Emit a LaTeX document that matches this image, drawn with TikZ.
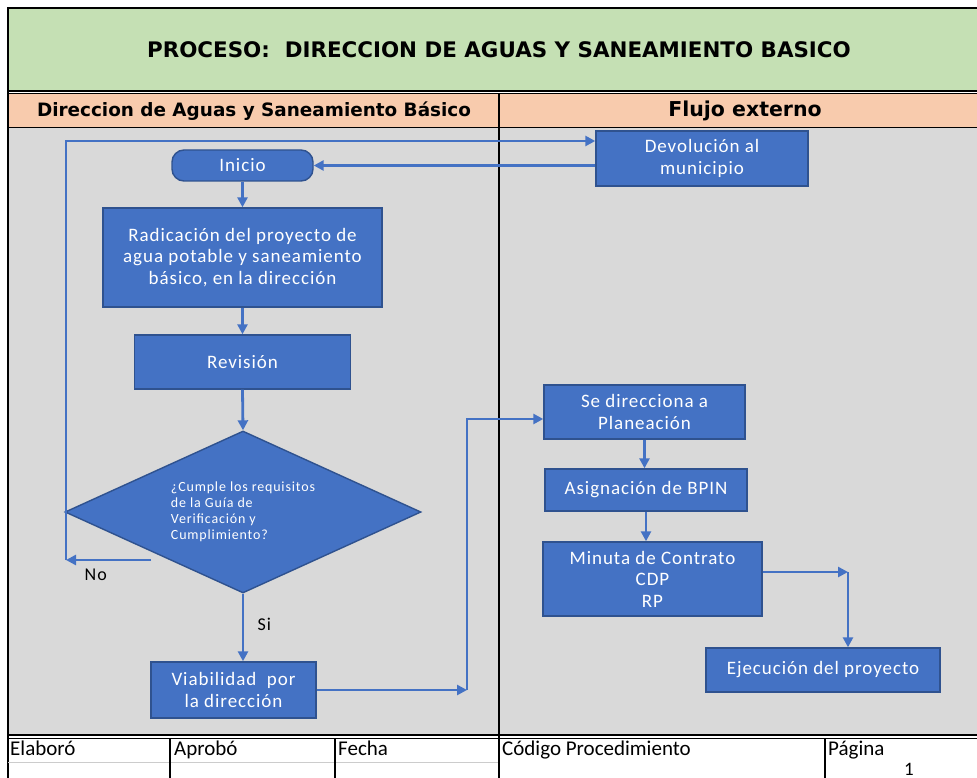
\documentclass[tikz,border=0pt]{standalone}
\usepackage{fontspec}
\setmainfont{Carlito}
\newfontfamily\boxfont[LetterSpace=5]{Carlito}
\newfontfamily\smallboxfont[LetterSpace=6]{Carlito}
\newfontfamily\headfont{DejaVu Sans}
\usetikzlibrary{arrows.meta,shapes.geometric,calc}
\definecolor{boxblue}{HTML}{4472C4}
\definecolor{boxedge}{HTML}{2F528F}
\definecolor{lanegray}{HTML}{D9D9D9}
\definecolor{titlegreen}{HTML}{C5E0B4}
\definecolor{headpeach}{HTML}{F8CBAD}

\begin{document}
\begin{tikzpicture}[x=1pt,y=-1pt,
	proc/.style={draw=boxedge,line width=1.4pt,fill=boxblue,text=white,align=center,inner sep=0pt,
		font=\boxfont\fontsize{19}{21.5}\selectfont},
	decision/.style={proc,diamond,aspect=2.2,align=left,font=\smallboxfont\fontsize{14}{16}\selectfont},
	flow/.style={draw=boxblue,line width=2.8pt,-{Triangle[length=10pt,width=10pt]}},
	frame/.style={draw=black,line width=1.5pt},
	lbl/.style={font=\boxfont\fontsize{18}{20}\selectfont,text=black},
	foot/.style={font=\fontsize{21}{23}\selectfont,anchor=base west,inner sep=0pt}]
	
	\useasboundingbox (0,0) rectangle (977,778);
	
	% bands
	\fill[white] (0,0) rectangle (977,778);
	\fill[titlegreen] (8,8) rectangle (977,91);
	\fill[headpeach] (8,93) rectangle (977,128);
	\fill[lanegray] (8,128) rectangle (977,735);
	\draw[frame] (977,8) -- (8,8) -- (8,778);
	\draw[frame] (8,91) -- (977,91);
	\draw[frame] (8,93.5) -- (977,93.5);
	\draw[line width=1pt] (8,128) -- (977,128);
	\draw[frame] (8,735) -- (977,735);
	\draw[line width=1pt] (8,738) -- (977,738);
	\draw[line width=0.8pt,gray!40] (8,762) -- (499,762);
	\draw[line width=2.5pt] (499,93) -- (499,778);
	\foreach \xcol in {170,335,825}
		\draw[frame] (\xcol,738) -- (\xcol,778);
	
	% titles
	\node[font=\headfont\bfseries\fontsize{21.4}{24}\selectfont] (titulo) at (499,50) {PROCESO:~~DIRECCION DE AGUAS Y SANEAMIENTO BASICO};
	\node[font=\headfont\bfseries\fontsize{18.4}{20}\selectfont] (laneA) at (254,111) {Direccion de Aguas y Saneamiento Básico};
	\node[font=\headfont\bfseries\fontsize{20.5}{23}\selectfont] (laneB) at (745,111) {Flujo externo};
	
	% footer
	\node[foot] (elaboro) at (10,755) {Elaboró};
	\node[foot] (aprobo) at (174,755) {Aprobó};
	\node[foot] (fecha) at (338,755) {Fecha};
	\node[foot] (codigo) at (502,755) {Código Procedimiento};
	\node[foot] (pagina) at (828,755) {Página};
	\node[foot,font=\fontsize{19}{21}\selectfont] (numpag) at (904,775) {1};
	
	% left lane
	\node[proc,rounded corners=12pt,minimum width=141pt,minimum height=31pt] (inicio) at (242.5,165.5) {Inicio};
	\node[proc,minimum width=279pt,minimum height=99pt] (radicacion) at (242.5,257.5) {Radicación del proyecto de\\agua potable y saneamiento\\básico, en la dirección};
	\node[proc,minimum width=216pt,minimum height=54pt] (revision) at (242.5,362) {Revisión};
	\node[decision,minimum width=356pt,minimum height=162pt] (cumple) at (243,512) {¿Cumple los requisitos\\de la Guía de\\Verificación y\\Cumplimiento?};
	\node[proc,minimum width=165pt,minimum height=56pt] (viabilidad) at (233.5,690) {Viabilidad~ por\\la dirección};
	
	% right lane
	\node[proc,minimum width=212pt,minimum height=55pt] (devolucion) at (702,158.5) {Devolución al\\municipio};
	\node[proc,minimum width=201pt,minimum height=54pt] (planeacion) at (644.5,412) {Se direcciona a\\Planeación};
	\node[proc,minimum width=202pt,minimum height=42pt] (bpin) at (646,490) {Asignación de BPIN};
	\node[proc,minimum width=219pt,minimum height=74pt] (minuta) at (652.5,579) {Minuta de Contrato\\CDP\\RP};
	\node[proc,minimum width=234pt,minimum height=44pt] (ejecucion) at (823,670) {Ejecución del proyecto};
	
	\coordinate (noStart) at (151,560);
	\coordinate (noCorner) at (66,560);
	\coordinate (viaCorner) at (467,690);
	\coordinate (minCorner) at (848,572);
	
	% connectors
	\draw[flow] (inicio.south) -- (radicacion.north);
	\draw[flow] (radicacion.south) -- (revision.north);
	\draw[flow] (revision.south) -- (cumple.north);
	\draw[flow] (cumple.south) -- node[lbl,right=10pt,pos=0.46]{Si} (cumple.south |- viabilidad.north);
	\draw[flow] (noStart) -- node[lbl,below=4pt,pos=0.65]{No} (noCorner);
	\draw[flow] (noCorner) |- ([yshift=17.5pt]devolucion.west);
	\draw[flow] (devolucion.west |- inicio.east) -- (inicio.east);
	\draw[flow] (viabilidad.east) -- (viaCorner);
	\draw[flow] (viaCorner) |- ([yshift=-7pt]planeacion.west);
	\draw[flow] (planeacion.south) -- (planeacion.south |- bpin.north);
	\draw[flow] (bpin.south) -- (bpin.south |- minuta.north);
	\draw[flow] (minuta.east |- minCorner) -- (minCorner);
	\draw[flow] (minCorner) -- (minCorner |- ejecucion.north);
	
\end{tikzpicture}
\end{document}
